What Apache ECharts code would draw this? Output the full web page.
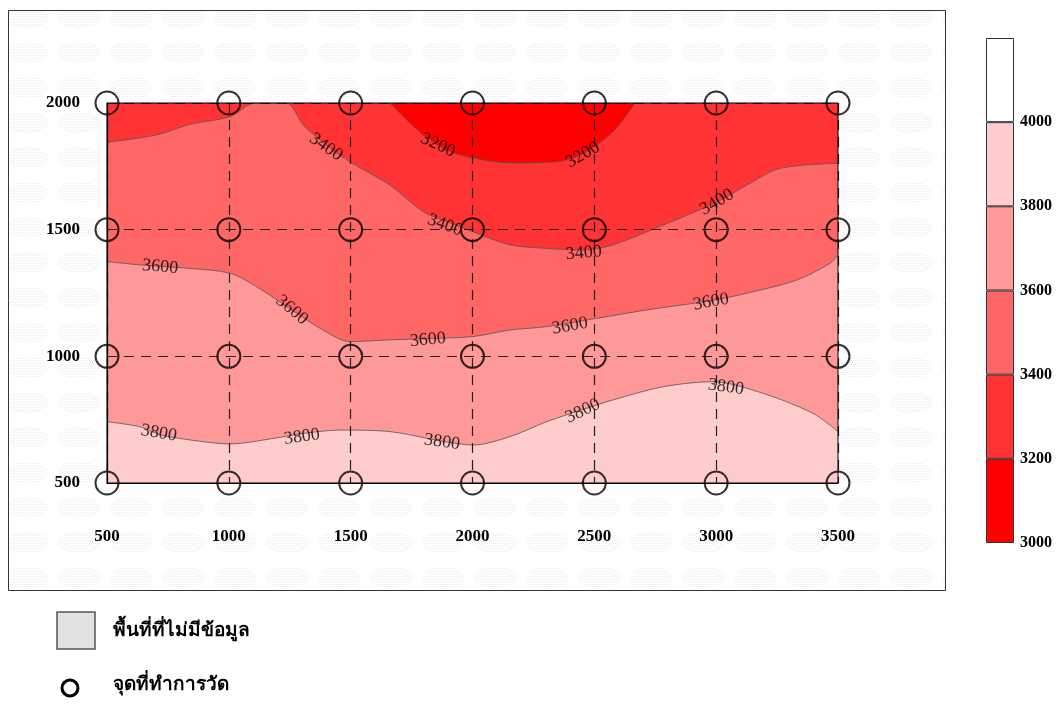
<!DOCTYPE html>
<html>
<head>
<meta charset="utf-8">
<script src="https://cdn.jsdelivr.net/npm/echarts@6/dist/echarts.min.js"></script>
<style>
  html, body { margin: 0; padding: 0; background: #fff; }
  #main { width: 1062px; height: 705px; }
</style>
</head>
<body>
<div id="main"></div>
<script>
// measuring points (grid)
var xPoints = [500, 1000, 1500, 2000, 2500, 3000, 3500]
var yPoints = [500, 1000, 1500, 2000]

// contour lines, [x, y]
var c3200 = [[1661, 2000], [1797, 1874], [1900, 1812], [2002, 1783], [2154, 1763], [2347, 1768], [2453, 1800], [2577, 1887], [2667, 2000]]
var c3400 = [[500, 1845], [704, 1874], [841, 1916], [1005, 1946], [1107, 2000], [1237, 2000], [1306, 1913], [1399, 1835], [1497, 1768], [1661, 1676], [1797, 1571], [1887, 1535], [2002, 1492], [2154, 1440], [2304, 1426], [2457, 1420], [2577, 1440], [2782, 1518], [3003, 1609], [3126, 1676], [3262, 1742], [3500, 1762]]
var c3600 = [[500, 1374], [635, 1361], [841, 1347], [1005, 1328], [1114, 1275], [1259, 1183], [1386, 1104], [1497, 1058], [1661, 1065], [1817, 1070], [2002, 1078], [2154, 1104], [2304, 1117], [2510, 1150], [2715, 1183], [2979, 1220], [3125, 1249], [3330, 1301], [3467, 1367], [3500, 1400]]
var c3800 = [[500, 742], [635, 722], [720, 690], [841, 670], [1005, 654], [1182, 676], [1300, 695], [1456, 709], [1661, 703], [1875, 665], [2003, 650], [2154, 683], [2304, 742], [2453, 790], [2577, 828], [2782, 880], [2987, 900], [3192, 854], [3397, 775], [3500, 703]]

// contour labels [x, y, text, angle]
var contourLabels = [
  [1399, 1826, '3400', -35], [1858, 1834, '3200', -25], [1887, 1518, '3400', -20],
  [2453, 1795, '3200', 30], [2457, 1408, '3400', 5], [3003, 1609, '3400', 30],
  [718, 1353, '3600', -5], [1259, 1183, '3600', -40], [1817, 1065, '3600', 5],
  [2400, 1120, '3600', 10], [2979, 1215, '3600', 10],
  [713, 697, '3800', -10], [1300, 682, '3800', 8], [1875, 662, '3800', -8],
  [2453, 784, '3800', 25], [3040, 879, '3800', -8]
]

// colour scale
var levels = [3000, 3200, 3400, 3600, 3800, 4000]
var bandColors = ['#ff0000', '#ff3333', '#ff6666', '#ff9999', '#ffcccc', '#ffffff']
var bandSize = 200

var chart = echarts.init(document.getElementById('main'))

// "no data" texture
function makePattern() {
  var cv = document.createElement('canvas')
  cv.width = 52
  cv.height = 35
  var ctx = cv.getContext('2d')
  ctx.fillStyle = '#ffffff'
  ctx.fillRect(0, 0, 52, 35)
  ctx.fillStyle = '#ececec'
  for (var i = 0; i < 52; i += 2) {
    for (var j = 0; j < 35; j += 2) {
      var dx = (i - 26) / 21, dy = (j - 17) / 11
      if (dx * dx + dy * dy <= 1) ctx.fillRect(i + (j % 4 ? 1 : 0), j, 1, 1)
    }
  }
  return cv
}
var pattern = { image: makePattern(), repeat: 'repeat' }

var serif = 'Liberation Serif, Times New Roman, serif'

function fillSeries(name, data, color, origin) {
  return {
    name: name,
    type: 'line',
    data: data,
    smooth: 0.3,
    symbol: 'none',
    clip: true,
    z: 1,
    lineStyle: { color: '#555', width: 0.8 },
    areaStyle: { color: color, opacity: 1, origin: origin || 'start' }
  }
}

var measurePts = []
xPoints.forEach(function (x) {
  yPoints.forEach(function (y) { measurePts.push([x, y]) })
})

var series = [
  {
    type: 'line', data: [[500, 2000], [3500, 2000]], symbol: 'none', z: 1,
    lineStyle: { width: 0 }, areaStyle: { color: bandColors[1], opacity: 1, origin: 'start' }
  },
  fillSeries('3400', c3400, bandColors[2]),
  fillSeries('3600', c3600, bandColors[3]),
  fillSeries('3800', c3800, bandColors[4]),
  fillSeries('3200', c3200, bandColors[0], 'end'),
  {
    type: 'scatter',
    z: 6,
    symbolSize: 0,
    data: contourLabels.map(function (d) {
      return { value: [d[0], d[1]], name: d[2], label: { rotate: d[3] } }
    }),
    label: {
      show: true, position: 'inside', formatter: '{b}',
      fontFamily: serif, fontSize: 18, color: '#000'
    }
  },
  {
    type: 'scatter',
    z: 8,
    data: measurePts,
    symbol: 'circle',
    symbolSize: 23,
    itemStyle: { color: 'rgba(0,0,0,0)', borderColor: '#000', borderWidth: 2 }
  },
  // transparent base so the colour bar starts at the lowest level
  {
    type: 'bar', xAxisIndex: 1, yAxisIndex: 1, stack: 'scale',
    barWidth: '100%', data: [levels[0]], silent: true,
    itemStyle: { color: 'rgba(0,0,0,0)' }
  }
]

// colour bar as stacked bars
bandColors.forEach(function (c) {
  series.push({
    type: 'bar', xAxisIndex: 1, yAxisIndex: 1, stack: 'scale',
    barWidth: '100%', data: [bandSize],
    itemStyle: { color: c, borderColor: '#333', borderWidth: 1 }
  })
})

var plain = function (v) { return String(v) }

var option = {
  animation: false,
  graphic: [
    { type: 'rect', z: -10, shape: { x: 8.5, y: 10.5, width: 937, height: 580 },
      style: { fill: pattern, stroke: '#333', lineWidth: 1 } },
    { type: 'rect', z: -10, shape: { x: 57, y: 612, width: 38, height: 37 },
      style: { fill: '#e2e2e2', stroke: '#555', lineWidth: 1.5 } },
    { type: 'text', left: 113, top: 621,
      style: { text: 'พื้นที่ที่ไม่มีข้อมูล', font: 'bold 19px sans-serif', fill: '#000' } },
    { type: 'circle', shape: { cx: 70, cy: 688, r: 8 },
      style: { fill: 'none', stroke: '#000', lineWidth: 3 } },
    { type: 'text', left: 113, top: 675,
      style: { text: 'จุดที่ทำการวัด', font: 'bold 19px sans-serif', fill: '#000' } }
  ],
  grid: [
    { left: 107, right: 224, top: 103, bottom: 222, show: true, borderColor: '#000', borderWidth: 1, backgroundColor: 'transparent', z: 9 },
    { left: 986, top: 38, width: 28, height: 505 }
  ],
  xAxis: [
    {
      type: 'value', min: 500, max: 3500, interval: 500, z: 5,
      axisLine: { show: true, onZero: false, lineStyle: { color: '#000', width: 1.2 } },
      axisTick: { show: false },
      axisLabel: { margin: 45, fontFamily: serif, fontWeight: 'bold', fontSize: 17, color: '#000', formatter: plain },
      splitLine: { show: true, lineStyle: { color: '#222', width: 1.2, type: [10, 7] } }
    },
    { gridIndex: 1, type: 'category', data: ['scale'], show: false }
  ],
  yAxis: [
    {
      type: 'value', min: 500, max: 2000, interval: 500, z: 5,
      axisLine: { show: true, onZero: false, lineStyle: { color: '#000', width: 1.2 } },
      axisTick: { show: false },
      axisLabel: { margin: 27, fontFamily: serif, fontWeight: 'bold', fontSize: 17, color: '#000', formatter: plain },
      splitLine: { show: true, lineStyle: { color: '#222', width: 1.2, type: [10, 7] } }
    },
    {
      gridIndex: 1, type: 'value', position: 'right', min: 3000, max: 4200, interval: 200,
      axisLine: { show: false }, axisTick: { show: false }, splitLine: { show: false },
      axisLabel: {
        margin: 6, fontFamily: serif, fontWeight: 'bold', fontSize: 16, color: '#000',
        formatter: function (v) { return levels.indexOf(v) >= 0 ? String(v) : '' }
      }
    }
  ],
  series: series
}

chart.setOption(option)
</script>
</body>
</html>
